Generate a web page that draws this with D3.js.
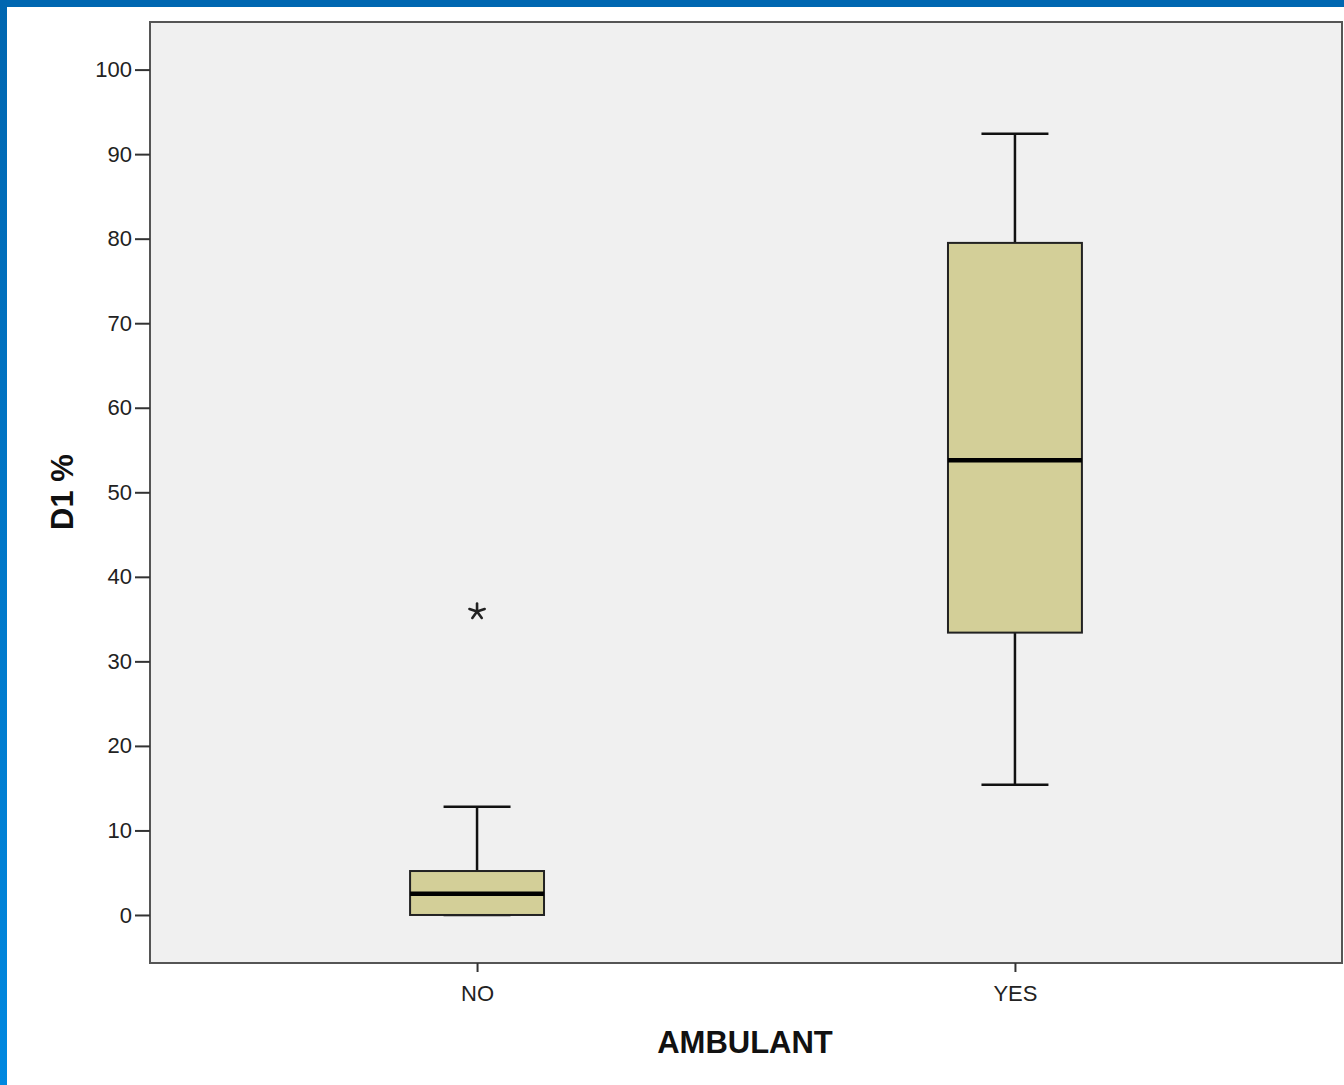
<!DOCTYPE html>
<html><head><meta charset="utf-8">
<script src="https://cdn.jsdelivr.net/npm/d3@7"></script>
<style>html,body{margin:0;padding:0;background:#fff;overflow:hidden}</style>
</head><body>
<svg id="c" width="1344" height="1085"></svg>
<script>
const categories = ["NO", "YES"];
const mins = [0, 15.4];
const q1s = [0, 33.4];
const medians = [2.5, 53.8];
const q3s = [5.2, 79.5];
const maxs = [12.8, 92.4];
const outlierCats = ["NO"];
const outlierValues = [35.9];
const yTicks = [0, 10, 20, 30, 40, 50, 60, 70, 80, 90, 100];

const svg = d3.select("#c");
const W = 1344, H = 1085;
const L = 150, R = 1342, T = 22, B = 963;
const FONT = "Liberation Sans, Arial, sans-serif";

// blue frame
const defs = svg.append("defs");
const g = defs.append("linearGradient").attr("id","lg").attr("x1",0).attr("y1",0).attr("x2",0).attr("y2",1);
g.append("stop").attr("offset","0%").attr("stop-color","#0066b0");
g.append("stop").attr("offset","100%").attr("stop-color","#0088e0");
svg.append("rect").attr("x",0).attr("y",0).attr("width",W).attr("height",7).attr("fill","#0067b1");
svg.append("rect").attr("x",0).attr("y",0).attr("width",7).attr("height",H).attr("fill","url(#lg)");

const y = d3.scaleLinear().domain([-5.68, 105.63]).range([B, T]);
const x = d3.scalePoint().domain(categories).range([L, R]).padding(0.608);
const step = x.step();
const bw = step * 0.249;
const cw = bw / 2;

svg.append("rect").attr("x",L).attr("y",T).attr("width",R-L).attr("height",B-T)
  .attr("fill","#f0f0f0").attr("stroke","#555").attr("stroke-width",2);

// y axis
const ya = svg.append("g").attr("transform",`translate(${L},0)`)
  .call(d3.axisLeft(y).tickValues(yTicks).tickSize(15).tickPadding(3));
ya.select(".domain").remove();
ya.selectAll(".tick line").attr("stroke","#333").attr("stroke-width",2);
ya.selectAll(".tick text").attr("font-family",FONT).attr("font-size",22).attr("fill","#222");

// x axis
const xa = svg.append("g").attr("transform",`translate(0,${B})`)
  .call(d3.axisBottom(x).tickSize(9).tickPadding(13));
xa.select(".domain").remove();
xa.selectAll(".tick line").attr("stroke","#333").attr("stroke-width",2);
xa.selectAll(".tick text").attr("font-family",FONT).attr("font-size",22).attr("fill","#222");

// boxes
categories.forEach((c, i) => {
  const cx = x(c);
  const gg = svg.append("g");
  gg.append("line").attr("x1",cx).attr("x2",cx).attr("y1",y(q3s[i])).attr("y2",y(maxs[i])).attr("stroke","#111").attr("stroke-width",2.5);
  gg.append("line").attr("x1",cx).attr("x2",cx).attr("y1",y(q1s[i])).attr("y2",y(mins[i])).attr("stroke","#111").attr("stroke-width",2.5);
  gg.append("line").attr("x1",cx-cw/2).attr("x2",cx+cw/2).attr("y1",y(maxs[i])).attr("y2",y(maxs[i])).attr("stroke","#111").attr("stroke-width",2.5);
  gg.append("line").attr("x1",cx-cw/2).attr("x2",cx+cw/2).attr("y1",y(mins[i])).attr("y2",y(mins[i])).attr("stroke","#111").attr("stroke-width",2.5);
  gg.append("rect").attr("x",cx-bw/2).attr("y",y(q3s[i])).attr("width",bw).attr("height",y(q1s[i])-y(q3s[i]))
    .attr("fill","#d3cf98").attr("stroke","#222").attr("stroke-width",2);
  gg.append("line").attr("x1",cx-bw/2).attr("x2",cx+bw/2).attr("y1",y(medians[i])).attr("y2",y(medians[i])).attr("stroke","#000").attr("stroke-width",4.5);
});

// outliers (asterisk)
outlierCats.forEach((c, i) => {
  const cx = x(c), cy = y(outlierValues[i]);
  const r = 8;
  const gg = svg.append("g").attr("transform",`translate(${cx},${cy})`);
  for (let k = 0; k < 5; k++) {
    const a = -Math.PI/2 + k * 2*Math.PI/5;
    gg.append("line").attr("x1",0).attr("y1",0).attr("x2",r*Math.cos(a)).attr("y2",r*Math.sin(a))
      .attr("stroke","#222").attr("stroke-width",2.6).attr("stroke-linecap","round");
  }
});

// titles
svg.append("text").attr("x",745).attr("y",1053).attr("text-anchor","middle")
  .attr("font-family",FONT).attr("font-weight","bold").attr("font-size",31).attr("fill","#111").text("AMBULANT");
svg.append("text").attr("transform","translate(73,492) rotate(-90)").attr("text-anchor","middle")
  .attr("font-family",FONT).attr("font-weight","bold").attr("font-size",31).attr("fill","#111").text("D1 %");
</script>
</body></html>
